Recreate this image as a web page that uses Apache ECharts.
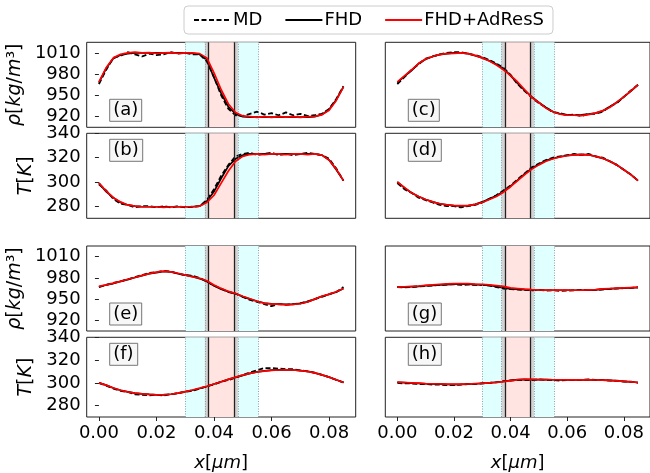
<!DOCTYPE html>
<html><head><meta charset="utf-8">
<script src="https://cdn.jsdelivr.net/npm/echarts@6/dist/echarts.min.js"></script>
<style>html,body{margin:0;padding:0;background:#fff}#c{width:650px;height:473px}</style>
</head><body><div id="c"></div>
<script>
const xs = [0,0.0025,0.005,0.0075,0.01,0.0125,0.015,0.0175,0.02,0.0225,0.025,0.0275,0.03,0.0325,0.035,0.0375,0.04,0.0425,0.045,0.0475,0.05,0.0525,0.055,0.0575,0.06,0.0625,0.065,0.0675,0.07,0.0725,0.075,0.0775,0.08,0.0825,0.085];

const aFHD = [968,988,1002,1007,1009,1010,1010,1010,1010,1010,1010,1010,1010,1009.5,1008,1000,975,953,934,924,920,919.5,919.5,919.5,919.5,919.5,919.5,919.5,919.5,919.5,920,923,930,944,962];
const aAdResS = [969,989,1003,1008,1010,1011,1010,1010.5,1009.5,1010,1010.5,1009.5,1010,1010,1009,1003,982,958,938,926,921,920,919,920,919,920,919.5,920,919,920,920.5,922.5,929,943,962];
const aMD = [966,986,1003,1006,1011,1008,1005,1009,1007,1008,1011,1009,1010,1008,1008,998,976,950,931,922,921,924,927,923,925,922,926,922,924,921,922,924,931,945,963];

const bFHD = [299,292,287,283,281,280,279.5,279.5,279.5,279.5,279.5,279.5,279.5,279.5,280,284,292,303,313,319,322,323,323,323,323,323,323,323,323,323,323,322,318,310,301];
const bAdResS = [299,292.5,287,283.5,281,280,279.5,279.5,279.5,279,279.5,279.5,279.5,279.5,280,283,289,299,309,317,321,322.5,323,322.5,323,323,322.5,323,323,322.5,323,322,318,310.5,301];
const bMD = [298,293,286,282,281,279,280,280,279,280,279,280,279,279.5,280,285,294,305,314,321,323,324,322,323,324,322,323,322,323,324,323,322,319,311,301];

const cFHD = [968,977,985,995,1001,1005,1007.5,1009,1010,1010,1009,1006,1003,999,994,988,978,967,957,948,940,933,927,924,922.5,922,922.5,923.5,925,928,934,940,948,956,965];
const cAdResS = [969,977.5,986,995,1001.5,1005,1008,1009,1009.5,1010,1009,1006.5,1003,998.5,993,986,978,969,958,947,940,932,927,923.5,922,922,921.5,923,925,928.5,933,940.5,948,956.5,965];
const cMD = [966,976,986,994,1002,1005,1008,1010,1011,1011,1009,1007,1004,1000,995,989,979,966,956,947,939,933,926,925,922,923,921,924,924,927,934,939,948,957,965];

const dFHD = [300,295,291,288,285.5,283.5,282,281,280.5,280.3,280.5,281.5,283.5,286,288.5,292,296.5,301.5,306.5,311,314.5,317.5,319.3,320.7,321.7,322.3,322.6,322.3,321,319.4,317,314,310,306,301];
const dAdResS = [300,295.5,291,288,285.5,283.5,282,281,280.5,280.5,280.5,281.5,283,285.5,288,291.5,296,301,306,310.5,314,317,319,320.5,321.5,322.3,322.5,322.3,321,319.5,317,314,310,306,301];
const dMD = [299,294,291,287,285,283,281,280,280,279,280,281,283,286,289,293,297,302,307,312,315,318,320,321,322,323,322,323,321,320,317,314,310,306,301];

const eFHD = [967.5,970,972,975,977.5,980.5,983,986,987.5,989,988.5,986,984,982,979,975,969,964,960.5,957.5,953.5,950,947,944.5,943.5,943,942.5,942.5,944,946,950,954,956.5,960,965];
const eAdResS = [968,970,972.5,975,978,980.5,983.5,986,988,989.5,988.5,986.5,984,981.5,979.5,976,970,965,961,958,954,950.5,947,944,943,943,942,942.5,943.5,946,950,954,957,960.5,965];
const eMD = [967,970,973,975,978,981,984,987,988,990,989,986,984,983,980,975,969,965,960,958,953,949,946,943,940,943,942,943,944,947,950,953,957,960,967];

const fFHD = [300,298,295.5,293.5,292,291,290.3,289.8,289.5,289.5,290,291,292.3,293.5,295,296.8,299,301,303,304.8,306.6,308.3,309.6,310.5,311.1,311.4,311.5,311.3,310.8,310,308.8,307,305,302.7,300.3];
const fAdResS = [300,298,295.5,293.5,292,291,290.3,289.8,289.5,289.7,290,291,292.3,293.7,295.3,297,299,301,303,305,306.8,308.3,309.5,310.3,311,311.3,311.4,311.3,310.8,310,308.8,307,305,302.7,300.3];
const fMD = [300,297.5,295,293,292,290,289.5,289,289.5,289,290,291,292,293,295,297,298.5,301,302.5,304.5,307,309,311,313,313,312.5,312,312,311,310,309,307,305,302.5,300.5];

const gFHD = [967,967,967.5,968,969,969.5,970,970.5,971,971,971,970.5,970,969.5,968,966,964.5,964,963.5,963,963,962.5,962.5,962.5,962.5,962.5,962.5,962.5,963,964,964.5,965,965.5,966,966.5];
const gAdResS = [967,967.5,968,968.5,969.5,970,971,971.5,972,972,971.8,971.3,971,970,969,968,966,965,964,963.3,963,962.8,962.8,962.8,962.8,962.5,962.5,963,963.5,964.5,965,965.5,966,966.3,966.6];
const gMD = [967,966.5,967,968,968.5,969,970,970.5,971,970,970.5,970,970,969,967,965,964,963.5,963,962.5,963,962,962.5,961.5,962,962.5,963,963,963,963.5,964.5,965,965.5,966,966.5];

const hFHD = [300.5,300.2,299.8,299.5,299.2,299,298.8,298.6,298.5,298.6,298.8,299.2,299.6,300,300.5,301.2,302.2,302.8,303,302.9,302.8,302.8,302.7,302.6,302.6,302.6,302.6,302.6,302.5,302.4,302.1,301.7,301.3,300.8,300.3];
const hAdResS = [300.6,300.3,300,299.7,299.4,299.2,299,298.9,298.8,298.9,299,299.3,299.6,300,300.4,301,302,302.7,303,303,302.9,302.8,302.7,302.7,302.6,302.7,302.6,302.6,302.5,302.4,302.1,301.7,301.3,300.8,300.3];
const hMD = [300,299.5,299.5,299,299,298.5,298.5,298,298,298.5,299,299,299.5,300,300.5,301.5,302,302.5,302.5,302.5,303,302.5,302.5,302,302.5,302.5,302.5,303,302.5,302.5,302,302,301,301,300];

const xTicks = [0, 0.02, 0.04, 0.06, 0.08];
const rhoTicks = [920, 950, 980, 1010];
const tTicks = [280, 300, 320, 340];
const cyanBands = [[0.030, 0.0368], [0.0483, 0.0555]];
const greyBands = [[0.0368, 0.0381], [0.0469, 0.0483]];
const pinkBand = [0.0381, 0.0469];
const solidLines = [0.0381, 0.0469];
const dottedLines = [0.030, 0.0368, 0.0483, 0.0555];

const FONT = 'DejaVu Sans';
const colLeft = [86.7, 385.3];
const rowTop = [42.3, 133.3, 246, 337.3];
const W = 269, H = 85;

const panels = [
  {lab:'(a)', col:0, row:0, kind:'rho', md:aMD, fhd:aFHD, ad:aAdResS},
  {lab:'(b)', col:0, row:1, kind:'T', md:bMD, fhd:bFHD, ad:bAdResS},
  {lab:'(c)', col:1, row:0, kind:'rho', md:cMD, fhd:cFHD, ad:cAdResS},
  {lab:'(d)', col:1, row:1, kind:'T', md:dMD, fhd:dFHD, ad:dAdResS},
  {lab:'(e)', col:0, row:2, kind:'rho', md:eMD, fhd:eFHD, ad:eAdResS},
  {lab:'(f)', col:0, row:3, kind:'T', md:fMD, fhd:fFHD, ad:fAdResS},
  {lab:'(g)', col:1, row:2, kind:'rho', md:gMD, fhd:gFHD, ad:gAdResS},
  {lab:'(h)', col:1, row:3, kind:'T', md:hMD, fhd:hFHD, ad:hAdResS}
];

const grids = [], xAxes = [], yAxes = [], series = [], titles = [];
const zip = arr => xs.map((x, i) => [x, arr[i]]);
const nameStyle = sz => ({fontFamily: FONT, fontSize: sz, color: '#000', rich: {i: {fontStyle: 'italic', fontFamily: FONT, fontSize: sz, color: '#000'}}});

panels.forEach((p, k) => {
  const left = colLeft[p.col], top = rowTop[p.row];
  grids.push({left: left, top: top, width: W, height: H, show: true, borderColor: '#222', borderWidth: 1, backgroundColor: 'transparent', containLabel: false});
  xAxes.push({
    type: 'value', gridIndex: k, min: -0.00425, max: 0.08925,
    axisLine: {show: false}, splitLine: {show: false},
    axisTick: {show: p.row === 3, customValues: xTicks, length: 4, lineStyle: {color: '#222'}},
    axisLabel: {show: p.row === 3, customValues: xTicks, formatter: v => v.toFixed(2), fontFamily: FONT, fontSize: 18, color: '#000', margin: 7},
    name: p.row === 3 ? '{i|x}[{i|μm}]' : '', nameLocation: 'middle', nameGap: 37,
    nameTextStyle: nameStyle(18)
  });
  const isRho = p.kind === 'rho';
  const showY = p.col === 0;
  yAxes.push({
    type: 'value', gridIndex: k, min: isRho ? 905 : 270, max: isRho ? 1025 : 340,
    axisLine: {show: false}, splitLine: {show: false},
    axisTick: {show: showY, customValues: isRho ? rhoTicks : tTicks, length: 4, lineStyle: {color: '#222'}},
    axisLabel: {show: showY, customValues: isRho ? rhoTicks : tTicks, formatter: v => String(v), fontFamily: FONT, fontSize: 18, color: '#000', margin: 6, showMinLabel: true, showMaxLabel: true},
    name: showY ? (isRho ? '{i|ρ}[{i|kg}/{i|m}³]' : '{i|T}[{i|K}]') : '',
    nameLocation: 'middle', nameGap: isRho ? 62 : 51, nameRotate: 90,
    nameTextStyle: nameStyle(19)
  });
  series.push({
    type: 'line', xAxisIndex: k, yAxisIndex: k, data: [], silent: true, z: 1, symbol: 'none',
    markArea: {silent: true, data: [
      ...cyanBands.map(b => [{xAxis: b[0], itemStyle: {color: '#e0ffff'}}, {xAxis: b[1]}]),
      ...greyBands.map(b => [{xAxis: b[0], itemStyle: {color: '#d3d3d3'}}, {xAxis: b[1]}]),
      [{xAxis: pinkBand[0], itemStyle: {color: '#ffe4e1'}}, {xAxis: pinkBand[1]}]
    ]},
    markLine: {silent: true, symbol: 'none', precision: 6, label: {show: false}, animation: false, data: [
      ...dottedLines.map(v => ({xAxis: v, lineStyle: {color: '#7a8a99', width: 0.8, type: [1, 1.5]}})),
      ...solidLines.map(v => ({xAxis: v, lineStyle: {color: '#222', width: 1.3, type: 'solid'}}))
    ]}
  });
  series.push({name: 'MD', type: 'line', xAxisIndex: k, yAxisIndex: k, data: zip(p.md), symbol: 'none', showSymbol: false, z: 3,
    lineStyle: {color: '#000', width: 1.8, type: [5, 2.5]}, itemStyle: {color: '#000'}});
  series.push({name: 'FHD', type: 'line', xAxisIndex: k, yAxisIndex: k, data: zip(p.fhd), symbol: 'none', showSymbol: false, z: 4,
    lineStyle: {color: '#000', width: 1.7}, itemStyle: {color: '#000'}});
  series.push({name: 'FHD+AdResS', type: 'line', xAxisIndex: k, yAxisIndex: k, data: zip(p.ad), symbol: 'none', showSymbol: false, z: 5,
    lineStyle: {color: '#ff0000', width: 1.7}, itemStyle: {color: '#ff0000'}});
  const bottomLabel = (p.row === 0 || p.row === 2);
  titles.push({
    text: p.lab, left: left + 22.5, top: top + (bottomLabel ? 56.5 : 5.5),
    textStyle: {fontFamily: FONT, fontSize: 18, fontWeight: 'normal', color: '#000', lineHeight: 21},
    backgroundColor: '#f7f7f7', borderColor: '#777', borderWidth: 1, padding: [1, 4]
  });
});

const chart = echarts.init(document.getElementById('c'), null, {renderer: 'canvas'});
chart.setOption({
  animation: false,
  title: titles,
  legend: {
    data: ['MD', 'FHD', 'FHD+AdResS'], top: 6, left: 184,
    itemWidth: 37, itemHeight: 12, itemGap: 22,
    itemStyle: {opacity: 0},
    textStyle: {fontFamily: FONT, fontSize: 18, color: '#000', padding: [0, 0, 0, -3]},
    backgroundColor: '#fff', borderColor: '#ccc', borderWidth: 1, borderRadius: 4, padding: [5, 9]
  },
  grid: grids, xAxis: xAxes, yAxis: yAxes, series: series
});
</script></body></html>
